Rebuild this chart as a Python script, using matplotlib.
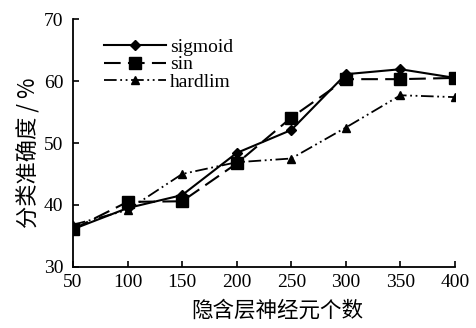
import matplotlib.pyplot as plt
import numpy as np

# hidden layer neuron counts and classification accuracy (%)
neurons = [50, 100, 150, 200, 250, 300, 350, 400]
sigmoid = [36.1, 39.5, 41.6, 48.4, 52.1, 61.1, 61.9, 60.5]
sin_acc = [36.1, 40.5, 40.6, 46.7, 54.1, 60.3, 60.3, 60.5]
hardlim = [36.8, 39.2, 45.0, 46.9, 47.5, 52.5, 57.7, 57.4]

plt.rcParams['font.family'] = ['Liberation Serif', 'Noto Sans CJK SC']

fig = plt.figure(figsize=(4.77, 3.28), dpi=100)
ax = fig.add_axes([0.153, 0.186, 0.801, 0.756])

ax.plot(neurons, sigmoid, color='black', lw=1.5, marker='D', ms=5, label='sigmoid')
ax.plot(neurons, sin_acc, color='black', lw=1.5, ls=(0, (8, 3.5)), marker='s', ms=9, label='sin')
ax.plot(neurons, hardlim, color='black', lw=1.3, ls=(0, (7, 2, 1, 2, 1, 2)), marker='^', ms=6, label='hardlim')

ax.set_xlim(50, 400)
ax.set_ylim(30, 70)
ax.set_xticks(neurons)
ax.set_yticks([30, 40, 50, 60, 70])
ax.tick_params(direction='in', labelsize=14, length=4, width=1.2)
ax.tick_params(axis='x', pad=5)
ax.tick_params(axis='y', pad=7)
for s in ['top', 'right']:
    ax.spines[s].set_visible(False)
for s in ['left', 'bottom']:
    ax.spines[s].set_linewidth(1.3)

ax.set_xlabel('隐含层神经元个数', fontsize=15.5, family=['Noto Sans CJK SC'], labelpad=6)
ax.xaxis.label.set_x(0.535)
ax.set_ylabel('分类准确度 / %', fontsize=16, family=['Noto Sans CJK SC', 'Liberation Serif'], labelpad=3)
ax.yaxis.label.set_y(0.46)

ax.legend(loc='upper left', frameon=False, fontsize=14, handlelength=3.2,
          handletextpad=0.2, labelspacing=0.0, borderaxespad=0.2,
          bbox_to_anchor=(0.05, 0.97))

fig.savefig('out.png', dpi=100)
